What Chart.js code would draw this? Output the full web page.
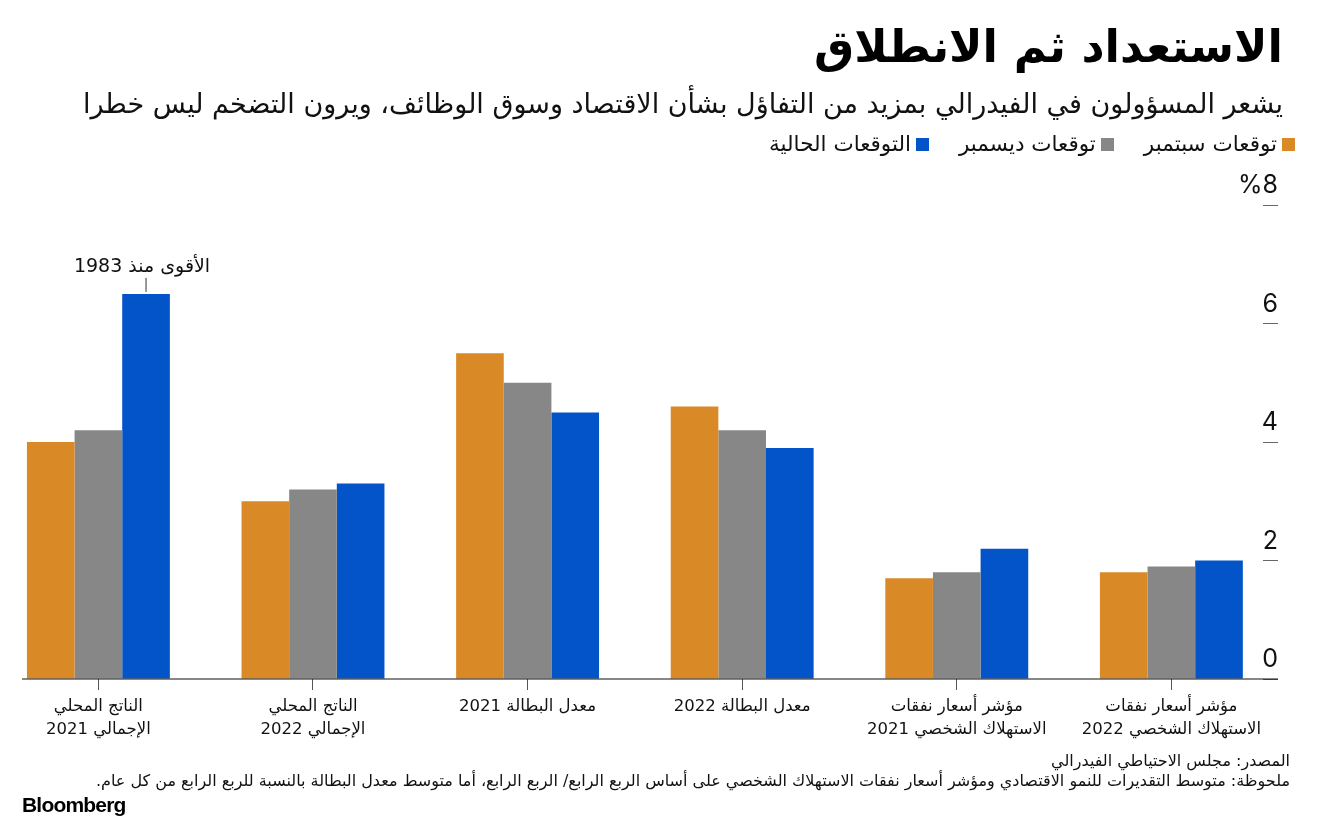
<!DOCTYPE html>
<html>
<head>
<meta charset="utf-8">
<script src="https://cdn.jsdelivr.net/npm/chart.js@4"></script>
<style>
  body { margin: 0; background: #fff; width: 1320px; height: 822px; position: relative; overflow: hidden; font-family: "DejaVu Sans", sans-serif; }
  #c { position: absolute; left: 0; top: 0; }
  .txt { position: absolute; direction: rtl; white-space: nowrap; color: #000; }
  #title { right: 37px; top: 20px; font-size: 45px; font-weight: bold; }
  #sub { right: 37px; top: 88px; font-size: 27px; color: #111; }
  #legend { right: 25px; top: 131px; font-size: 21.5px; display: flex; gap: 30px; color: #111; }
  #legend span.sq { display: inline-block; width: 13px; height: 13px; margin-left: 5px; vertical-align: 0px; }
  #src { right: 30px; top: 751px; font-size: 16px; color: #111; }
  #note { right: 30px; top: 771px; font-size: 16px; color: #111; }
  #logo { left: 22px; top: 793px; font-family: "Liberation Sans", sans-serif; font-weight: bold; font-size: 21px; letter-spacing: -0.8px; direction: ltr; }
</style>
</head>
<body>
<canvas id="c" width="1320" height="822"></canvas>
<div class="txt" id="title">الاستعداد ثم الانطلاق</div>
<div class="txt" id="sub">يشعر المسؤولون في الفيدرالي بمزيد من التفاؤل بشأن الاقتصاد وسوق الوظائف، ويرون التضخم ليس خطرا</div>
<div class="txt" id="legend"></div>
<div class="txt" id="src">المصدر: مجلس الاحتياطي الفيدرالي</div>
<div class="txt" id="note">ملحوظة: متوسط التقديرات للنمو الاقتصادي ومؤشر أسعار نفقات الاستهلاك الشخصي على أساس الربع الرابع/ الربع الرابع، أما متوسط معدل البطالة بالنسبة للربع الرابع من كل عام.</div>
<div class="txt" id="logo">Bloomberg</div>
<script>
const categories = [
  ['الناتج المحلي', 'الإجمالي 2021'],
  ['الناتج المحلي', 'الإجمالي 2022'],
  ['معدل البطالة 2021'],
  ['معدل البطالة 2022'],
  ['مؤشر أسعار نفقات', 'الاستهلاك الشخصي 2021'],
  ['مؤشر أسعار نفقات', 'الاستهلاك الشخصي 2022']
]
const seriesNames = ['توقعات سبتمبر', 'توقعات ديسمبر', 'التوقعات الحالية']
const septValues = [4.0, 3.0, 5.5, 4.6, 1.7, 1.8]
const decValues = [4.2, 3.2, 5.0, 4.2, 1.8, 1.9]
const currentValues = [6.5, 3.3, 4.5, 3.9, 2.2, 2.0]
const colors = ['#d98a26', '#878787', '#0254c8']
const yTicks = [0, 2, 4, 6, 8]
const yTickLabels = ['0', '2', '4', '6', '%8']
const noteText = 'الأقوى منذ 1983'

// html legend
let lg = document.getElementById('legend')
seriesNames.forEach((name, i) => {
  let item = document.createElement('span')
  let sq = document.createElement('span')
  sq.className = 'sq'
  sq.style.background = colors[i]
  item.appendChild(sq)
  item.appendChild(document.createTextNode(name))
  lg.appendChild(item)
})

function toPoints(arr) {
  return arr.map((v, i) => ({x: i, y: v}))
}

const extras = {
  id: 'extras',
  afterDatasetsDraw(chart) {
    const ctx = chart.ctx
    const ys = chart.scales.y
    const area = chart.chartArea
    ctx.save()
    // baseline
    ctx.strokeStyle = '#111'
    ctx.lineWidth = 1.2
    ctx.beginPath()
    ctx.moveTo(area.left, ys.getPixelForValue(0))
    ctx.lineTo(ys.right, ys.getPixelForValue(0))
    ctx.stroke()
    // y labels above tick marks
    ctx.fillStyle = '#111'
    ctx.font = '25px Inter, "DejaVu Sans", sans-serif'
    ctx.textAlign = 'right'
    ctx.textBaseline = 'alphabetic'
    yTicks.forEach((v, i) => {
      ctx.fillText(yTickLabels[i], ys.right, ys.getPixelForValue(v) - 12)
    })
    // annotation on the highest bar
    const bar = chart.getDatasetMeta(2).data[0]
    ctx.strokeStyle = '#333'
    ctx.lineWidth = 1
    ctx.beginPath()
    ctx.moveTo(bar.x, bar.y - 2)
    ctx.lineTo(bar.x, bar.y - 16)
    ctx.stroke()
    ctx.font = '19px "DejaVu Sans", sans-serif'
    ctx.textAlign = 'center'
    ctx.fillText(noteText, bar.x - 4, bar.y - 22)
    ctx.restore()
  }
}

new Chart(document.getElementById('c'), {
  type: 'bar',
  data: {
    datasets: [
      {label: seriesNames[0], data: toPoints(septValues), backgroundColor: colors[0]},
      {label: seriesNames[1], data: toPoints(decValues), backgroundColor: colors[1]},
      {label: seriesNames[2], data: toPoints(currentValues), backgroundColor: colors[2]}
    ]
  },
  options: {
    responsive: false,
    animation: false,
    layout: {padding: {left: 22, right: 42, top: 205, bottom: 73}},
    datasets: {bar: {barPercentage: 1, categoryPercentage: 0.666, borderWidth: 0}},
    plugins: {legend: {display: false}, tooltip: {enabled: false}},
    scales: {
      x: {
        type: 'linear',
        offset: false,
        min: -0.356,
        max: 5.427,
        afterBuildTicks: (scale) => { scale.ticks = categories.map((c, i) => ({value: i})) },
        afterFit: (scale) => { scale.height = 70 },
        border: {display: false},
        grid: {offset: false, drawOnChartArea: false, drawTicks: true, tickLength: 11, color: '#555', lineWidth: 1},
        ticks: {
          padding: 5,
          color: '#111',
          autoSkip: false,
          maxRotation: 0,
          font: {family: '"DejaVu Sans", sans-serif', size: 16.5, lineHeight: 1.4},
          callback: (v) => categories[v]
        }
      },
      y: {
        position: 'right',
        min: 0,
        max: 8,
        afterBuildTicks: (scale) => { scale.ticks = yTicks.map(v => ({value: v})) },
        afterFit: (scale) => { scale.width = 15 },
        border: {display: false},
        grid: {drawOnChartArea: false, drawTicks: true, tickLength: 15, color: '#666', lineWidth: 1},
        ticks: {display: false}
      }
    }
  },
  plugins: [extras]
})
</script>
</body>
</html>
